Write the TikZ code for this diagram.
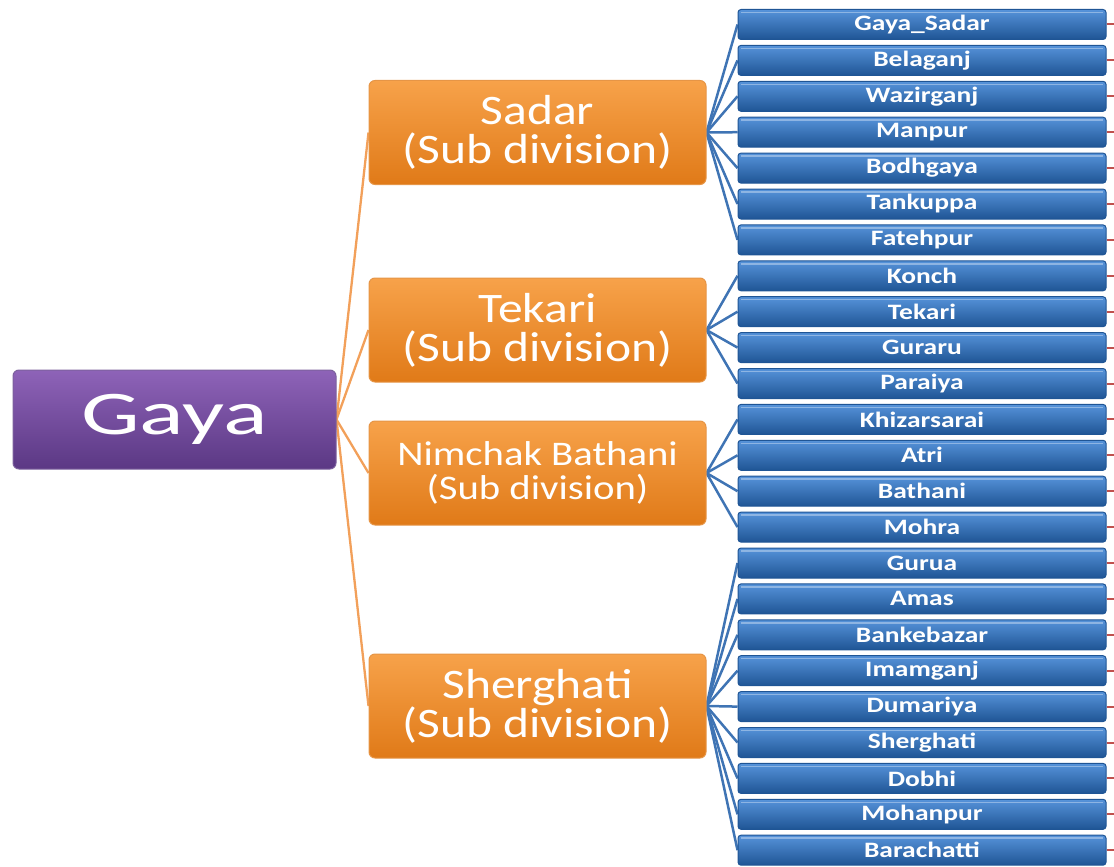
\documentclass[tikz,border=0pt]{standalone}
\usepackage{fontspec}
\newfontfamily\gayafont[FakeStretch=1.5]{Carlito}
\newfontfamily\subfont[FakeStretch=1.18]{Carlito}
\newfontfamily\blockfont[FakeStretch=1.25]{Carlito}
\definecolor{purpT}{HTML}{8E63B8}
\definecolor{purpB}{HTML}{5B3884}
\definecolor{orT}{HTML}{F7A24A}
\definecolor{orB}{HTML}{E07A18}
\definecolor{blT}{HTML}{5693DA}
\definecolor{blB}{HTML}{1F5595}
\definecolor{orLine}{HTML}{F2A05A}
\definecolor{blLine}{HTML}{3F74B4}
\definecolor{stub}{HTML}{C0504D}
\pgfdeclarelayer{bg}
\pgfsetlayers{bg,main}
\tikzset{
  gayabox/.style={rounded corners=6pt, top color=purpT, bottom color=purpB, draw=purpB!80!white, line width=1pt,
    minimum width=323pt, minimum height=99pt, inner sep=0pt, text=white,
    font=\gayafont\fontsize{62}{62}\selectfont},
  subbox/.style={rounded corners=6pt, top color=orT, bottom color=orB, draw=orB!80!white, line width=1pt,
    minimum width=337pt, minimum height=104pt, inner sep=0pt, text=white, align=center,
    font=\subfont\fontsize{42}{39}\selectfont},
  smallsub/.style={font=\subfont\fontsize{34.5}{34}\selectfont},
  blockbox/.style={rounded corners=3pt, top color=blT, bottom color=blB, draw=blB, line width=1pt,
    minimum width=368pt, minimum height=30pt, inner sep=0pt, text=white,
    font=\blockfont\bfseries\fontsize{22}{22}\selectfont,
    path picture={\draw[white,opacity=0.35,line width=1.5pt]
      ([xshift=3pt,yshift=-3pt]path picture bounding box.north west) --
      ([xshift=-3pt,yshift=-3pt]path picture bounding box.north east);}},
  orlink/.style={draw=orLine, line width=2.3pt},
  bllink/.style={draw=blLine, line width=2.5pt},
  stublink/.style={draw=stub, line width=2pt}
}
\begin{document}
\begin{tikzpicture}[x=1pt,y=-1pt]
\useasboundingbox (0,0) rectangle (1114,867);
\node[gayabox] (gaya) at (174.5,419.5) {Gaya};
\node[subbox] (sadar) at (537.5,132.5) {Sadar\\(Sub division)};
\node[subbox] (tekari) at (537.5,330) {Tekari\\(Sub division)};
\node[subbox, smallsub] (nimchak) at (537.5,473) {Nimchak Bathani\\(Sub division)};
\node[subbox] (sherghati) at (537.5,706) {Sherghati\\(Sub division)};
\foreach \name [count=\i from 0] in {Gaya\_Sadar,Belaganj,Wazirganj,Manpur,Bodhgaya,Tankuppa,Fatehpur,Konch,Tekari,Guraru,Paraiya,Khizarsarai,Atri,Bathani,Mohra,Gurua,Amas,Bankebazar,Imamganj,Dumariya,Sherghati,Dobhi,Mohanpur,Barachatti}{
  \node[blockbox] (b\i) at (922,{24.5+35.9*\i}) {\name};
  \coordinate (r\i) at (1114,{24.5+35.9*\i});
  \begin{pgfonlayer}{bg}
    \draw[stublink] (b\i.east) -- (r\i);
  \end{pgfonlayer}
}
\begin{pgfonlayer}{bg}
  \foreach \s in {sadar,tekari,nimchak,sherghati}{
    \draw[orlink] (gaya.east) -- (\s.west);
  }
  \foreach \i in {0,...,6}{\draw[bllink] (sadar.east) -- (b\i.west);}
  \foreach \i in {7,...,10}{\draw[bllink] (tekari.east) -- (b\i.west);}
  \foreach \i in {11,...,14}{\draw[bllink] (nimchak.east) -- (b\i.west);}
  \foreach \i in {15,...,23}{\draw[bllink] (sherghati.east) -- (b\i.west);}
\end{pgfonlayer}
\end{tikzpicture}
\end{document}
